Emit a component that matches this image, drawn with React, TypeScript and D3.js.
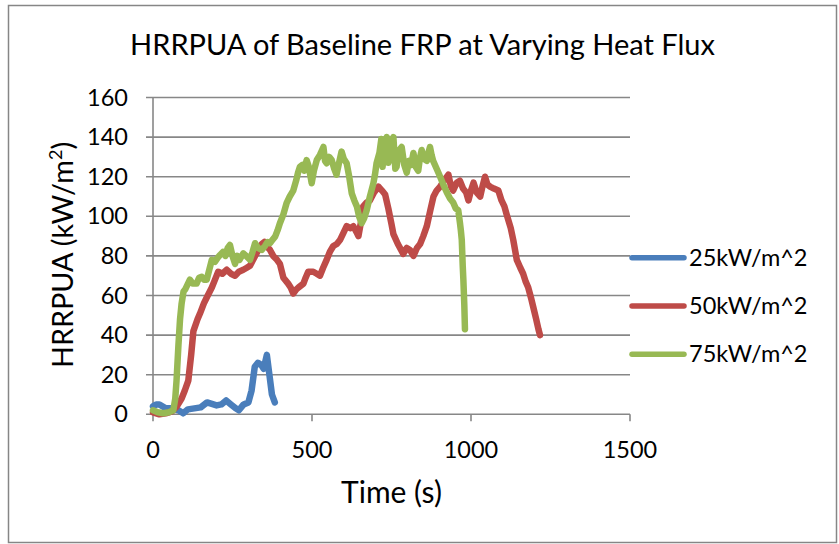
import React from "react";
import * as d3 from "d3";

const title = "HRRPUA of Baseline FRP at Varying Heat Flux";
const xTicks = [0, 500, 1000, 1500];
const yTicks = [0, 20, 40, 60, 80, 100, 120, 140, 160];
const seriesNames = ["25kW/m^2", "50kW/m^2", "75kW/m^2"];
const seriesColors = ["#4A7EBB", "#BE4B48", "#98B954"];

const t25 = [0, 10, 20, 40, 60, 80, 95, 110, 130, 150, 170, 190, 200, 215, 230, 245, 260, 270, 285, 300, 310, 320, 330, 340, 348, 358, 366, 374, 383];
const v25 = [4, 5, 5, 3, 3, 2, 0.5, 2.5, 3, 3.5, 6, 5, 4.5, 5, 7, 5, 3, 2, 5, 6, 12, 24, 26, 25, 23, 30, 20, 10, 6];

const t50 = [0, 20, 40, 60, 75, 90, 100, 111, 120, 127, 140, 148, 160, 169, 185, 195, 205, 218, 232, 245, 258, 270, 284, 295, 305, 321, 335, 342, 350, 357, 368, 378, 390, 399, 410, 425, 433, 441, 450, 457, 473, 480, 488, 504, 515, 525, 535, 546, 556, 567, 578, 588, 600, 609, 620, 630, 640, 646, 655, 661, 672, 682, 695, 709, 720, 730, 740, 750, 756, 770, 787, 798, 808, 819, 830, 840, 850, 861, 872, 882, 892, 903, 915, 929, 937, 944, 955, 965, 975, 985, 992, 1000, 1008, 1018, 1029, 1036, 1044, 1052, 1060, 1072, 1086, 1096, 1105, 1112, 1125, 1133, 1144, 1155, 1164, 1172, 1180, 1190, 1196, 1205, 1212, 1217];
const v50 = [1, 0, 0.5, 1.5, 4, 8, 12, 17, 30, 42, 48, 51, 56, 59, 64, 68, 72, 71, 73, 71, 70, 72, 73, 74, 75, 80, 84, 86, 87, 85, 83, 80, 78, 76, 69, 66, 64, 61, 63, 64, 66, 69, 72, 72, 71, 70, 74, 78, 82, 85, 86, 88, 92, 95, 94, 95, 92, 90, 98, 105, 107, 108, 112, 115, 113, 111, 104, 96, 91, 86, 81, 84, 83, 80, 84, 86, 90, 95, 103, 110, 113, 115, 118, 121, 115, 113, 117, 118, 114, 112, 108, 113, 117, 112, 110, 115, 120, 116, 115, 114, 113, 108, 105, 101, 94, 88, 78, 74, 71, 67, 64, 58, 54, 48, 43, 40];

const t75 = [0, 15, 32, 50, 64, 70, 74, 80, 85, 90, 96, 101, 110, 116, 125, 137, 145, 153, 160, 169, 177, 185, 195, 203, 211, 220, 228, 235, 242, 250, 258, 265, 272, 284, 293, 305, 313, 321, 330, 342, 352, 360, 368, 375, 384, 392, 399, 410, 420, 430, 441, 450, 456, 462, 470, 476, 483, 490, 499, 506, 515, 525, 536, 541, 546, 554, 562, 570, 577, 585, 593, 600, 609, 617, 625, 633, 641, 648, 656, 664, 672, 682, 693, 698, 703, 712, 718, 722, 728, 735, 740, 745, 750, 756, 762, 766, 772, 782, 790, 798, 805, 812, 819, 826, 834, 840, 845, 852, 861, 866, 871, 876, 881, 892, 903, 913, 924, 934, 944, 952, 960, 965, 968, 971, 974, 976, 979, 981];
const v75 = [2, 1, 0.5, 1, 2, 8, 17, 35, 48, 56, 62, 63, 66, 68, 66, 66, 69, 69.5, 68, 68, 73, 78, 77, 79, 80.5, 82, 80, 84, 85.5, 80, 76, 80, 78, 81.3, 80, 78, 82, 86.4, 84, 83, 85, 87, 86.4, 88, 89.7, 93, 96.5, 101, 106.6, 110, 113, 118, 122, 125, 126, 123, 128.4, 125, 116.7, 123, 128.4, 131, 135, 128, 126.8, 130, 128.4, 124, 121, 127, 132.7, 129, 126.8, 120, 111.6, 108, 105, 100, 96.5, 99, 103, 110, 116.7, 121, 126.8, 132, 139, 125, 137, 140, 127, 130, 138, 140, 124, 125, 133, 135, 126, 122, 128, 126, 132, 125, 123, 130, 133.5, 129, 128, 132, 135, 131, 128, 124, 120, 116, 112, 109, 107, 104, 103, 97, 93, 88, 75, 68, 55, 43];

const W = 839;
const H = 544;
const plot = { left: 153, right: 630, top: 97.5, bottom: 414.3 };
const font = "Lato, 'Open Sans', sans-serif";

export default function App() {
  const x = d3.scaleLinear().domain([0, 1500]).range([plot.left, plot.right]);
  const y = d3.scaleLinear().domain([0, 160]).range([plot.bottom, plot.top]);
  const line = d3
    .line<[number, number]>()
    .x((d) => x(d[0]))
    .y((d) => y(d[1]));
  const series = [
    { t: t25, v: v25 },
    { t: t50, v: v50 },
    { t: t75, v: v75 },
  ];
  const grid = "#878787";
  return (
    <svg
      width={W}
      height={H}
      style={{ position: "absolute", left: 0, top: 0, background: "#fff" }}
      fontFamily={font}
    >
      <rect x={8.5} y={5.5} width={828} height={537} fill="#fff" stroke="#868686" strokeWidth={1.5} />
      <text x={422.5} y={55} textAnchor="middle" fontSize={29} fill="#000">
        {title}
      </text>
      {yTicks.map((v) => (
        <g key={"y" + v}>
          <line x1={plot.left - 7} x2={plot.right} y1={y(v)} y2={y(v)} stroke={grid} strokeWidth={1.6} />
          <text x={128} y={y(v) + 8} textAnchor="end" fontSize={23.5} fill="#000">
            {v}
          </text>
        </g>
      ))}
      <line x1={plot.left} x2={plot.left} y1={plot.top} y2={plot.bottom} stroke={grid} strokeWidth={1.6} />
      {xTicks.map((t) => (
        <g key={"x" + t}>
          <line x1={x(t)} x2={x(t)} y1={plot.bottom} y2={plot.bottom + 7} stroke={grid} strokeWidth={1.6} />
          <text x={x(t)} y={458} textAnchor="middle" fontSize={23.5} fill="#000">
            {t}
          </text>
        </g>
      ))}
      <text x={391.5} y={503} textAnchor="middle" fontSize={30} fill="#000">
        Time (s)
      </text>
      <text transform="translate(73,255) rotate(-90)" textAnchor="middle" fontSize={28.8} fill="#000">
        HRRPUA (kW/m
        <tspan fontSize={18} dy={-11}>2</tspan>
        <tspan dy={11}>)</tspan>
      </text>
      {series.map((s, i) => (
        <path
          key={"s" + i}
          d={line(s.t.map((t, j) => [t, s.v[j]]) as [number, number][]) || ""}
          fill="none"
          stroke={seriesColors[i]}
          strokeWidth={6.5}
          strokeLinejoin="round"
          strokeLinecap="round"
        />
      ))}
      {seriesNames.map((n, i) => {
        const ly = 257.7 + i * 48.3;
        return (
          <g key={"l" + i}>
            <line x1={632} x2={684} y1={ly} y2={ly} stroke={seriesColors[i]} strokeWidth={5.5} strokeLinecap="round" />
            <text x={689} y={ly + 8} fontSize={23.5} fill="#000">
              {n}
            </text>
          </g>
        );
      })}
    </svg>
  );
}
